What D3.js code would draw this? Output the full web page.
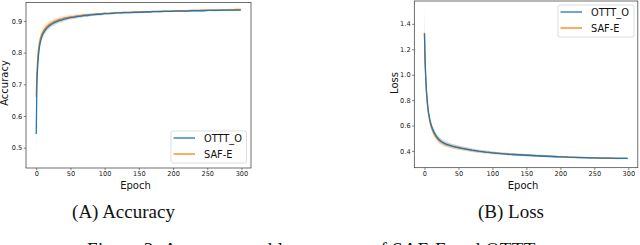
<!DOCTYPE html>
<html><head><meta charset="utf-8">
<script src="https://cdn.jsdelivr.net/npm/d3@7"></script>
<style>html,body{margin:0;padding:0;background:#fff;overflow:hidden}</style>
</head><body><svg id="c" width="640" height="245"></svg>
<script>
const epochs = [0,1,2,3,4,5,6,7, 8,9,10,12,14,16,18,20, 23,26,29,32,35,38,41,44, 47,50,54,58,62,66,70,75,
  80,85,90,95,100,106,112,118, 124,130,137,144,151,158,165,172, 180,188,196,204,212,220,228,236, 244,252,260,268,276,284,292,299];
const seriesNames = ["OTTT_O", "SAF-E"];
const accOTTT = [0.543,0.700,0.752,0.785,0.806,0.822,0.833,0.842, 0.849,0.855,0.860,0.867,0.873,0.878,0.882,0.886,
  0.890,0.894,0.897,0.899,0.902,0.903,0.906,0.907, 0.909,0.910,0.911,0.913,0.914,0.915,0.917,0.917,
  0.919,0.920,0.921,0.921,0.923,0.923,0.924,0.925, 0.925,0.926,0.926,0.927,0.927,0.928,0.928,0.929,
  0.929,0.930,0.930,0.931,0.931,0.931,0.932,0.932, 0.932,0.933,0.933,0.933,0.934,0.934,0.934,0.934];
const accSAFE = [0.660,0.735,0.775,0.803,0.820,0.834,0.844,0.851, 0.857,0.862,0.866,0.873,0.879,0.883,0.887,0.890,
  0.894,0.898,0.900,0.903,0.905,0.906,0.909,0.910, 0.911,0.913,0.913,0.915,0.916,0.917,0.918,0.919,
  0.920,0.921,0.922,0.922,0.924,0.924,0.925,0.926, 0.926,0.927,0.927,0.928,0.928,0.929,0.929,0.930,
  0.930,0.931,0.931,0.932,0.932,0.932,0.933,0.933, 0.934,0.934,0.934,0.935,0.935,0.935,0.936,0.936];
const accOTTTSpread = [0.080,0.045,0.030,0.022,0.018,0.015,0.014,0.012, 0.013,0.011,0.012,0.010,0.011,0.009,0.010,0.009,
  0.008,0.009,0.007,0.008,0.007,0.008,0.006,0.007, 0.006,0.006,0.005,0.006,0.005,0.005,0.004,0.005,
  0.004,0.004,0.005,0.004,0.004,0.003,0.004,0.003, 0.004,0.003,0.003,0.004,0.003,0.003,0.003,0.003,
  0.004,0.003,0.003,0.003,0.002,0.003,0.003,0.002, 0.003,0.002,0.003,0.002,0.003,0.002,0.002,0.002];
const accSAFESpread = [0.060,0.040,0.030,0.024,0.020,0.017,0.015,0.014, 0.015,0.013,0.012,0.012,0.011,0.012,0.010,0.011,
  0.009,0.010,0.009,0.008,0.009,0.008,0.007,0.008, 0.007,0.007,0.006,0.006,0.005,0.006,0.005,0.005,
  0.004,0.005,0.004,0.004,0.004,0.003,0.004,0.003, 0.003,0.004,0.003,0.003,0.003,0.003,0.003,0.002,
  0.003,0.003,0.003,0.002,0.003,0.003,0.002,0.003, 0.002,0.002,0.003,0.002,0.002,0.003,0.002,0.002];
const lossOTTT = [1.325,1.100,0.965,0.870,0.800,0.745,0.705,0.672, 0.645,0.622,0.602,0.572,0.548,0.528,0.512,0.498,
  0.482,0.470,0.461,0.454,0.448,0.443,0.438,0.434, 0.430,0.427,0.422,0.418,0.414,0.410,0.406,0.402,
  0.398,0.395,0.391,0.388,0.385,0.382,0.379,0.377, 0.374,0.372,0.370,0.368,0.366,0.364,0.362,0.360,
  0.358,0.356,0.354,0.353,0.351,0.350,0.348,0.347, 0.346,0.345,0.344,0.343,0.343,0.342,0.342,0.341];
const lossSAFE = [1.330,1.090,0.950,0.855,0.785,0.730,0.690,0.658, 0.631,0.609,0.590,0.560,0.537,0.518,0.503,0.490,
  0.476,0.465,0.457,0.450,0.445,0.440,0.436,0.432, 0.429,0.425,0.421,0.417,0.413,0.409,0.405,0.401,
  0.397,0.394,0.391,0.388,0.385,0.382,0.380,0.377, 0.375,0.373,0.371,0.369,0.367,0.365,0.363,0.361,
  0.359,0.357,0.355,0.353,0.352,0.350,0.349,0.347, 0.346,0.345,0.344,0.343,0.342,0.342,0.341,0.341];
const lossOTTTSpread = [0.210,0.090,0.060,0.050,0.040,0.035,0.030,0.030, 0.028,0.030,0.027,0.025,0.028,0.024,0.026,0.022,
  0.024,0.020,0.022,0.019,0.020,0.018,0.017,0.019, 0.016,0.017,0.015,0.016,0.014,0.015,0.013,0.014,
  0.012,0.013,0.012,0.011,0.012,0.010,0.011,0.010, 0.010,0.009,0.010,0.009,0.009,0.010,0.008,0.009,
  0.008,0.008,0.009,0.007,0.008,0.007,0.008,0.007, 0.007,0.006,0.007,0.006,0.006,0.007,0.006,0.006];
const lossSAFESpread = [0.150,0.080,0.060,0.050,0.045,0.040,0.035,0.033, 0.030,0.032,0.030,0.028,0.030,0.026,0.027,0.024,
  0.025,0.022,0.023,0.020,0.021,0.019,0.018,0.019, 0.017,0.017,0.016,0.016,0.015,0.014,0.015,0.013,
  0.013,0.012,0.013,0.011,0.011,0.010,0.011,0.010, 0.010,0.009,0.010,0.009,0.009,0.008,0.009,0.008,
  0.008,0.009,0.007,0.008,0.007,0.007,0.008,0.007, 0.006,0.007,0.006,0.006,0.007,0.006,0.006,0.005];
const xTicks = [0,50,100,150,200,250,300];
const accTicks = [0.5,0.6,0.7,0.8,0.9];
const lossTicks = [0.4,0.6,0.8,1.0,1.2,1.4];
const captions = ["(A) Accuracy", "(B) Loss"];
const figureCaption = "Figure 3: Accuracy and loss curves of SAF-E and OTTT.";

const colors = ["#1f77b4", "#ff7f0e"];
const svg = d3.select("#c");

function panel(cfg) {
  const x = d3.scaleLinear().domain([-14.95, 313.95]).range([cfg.x0, cfg.x1]);
  const y = d3.scaleLinear().domain(cfg.ydom).range([cfg.y0, cfg.y1]);
  const g = svg.append("g");
  const clipId = "clip" + cfg.id;
  svg.append("clipPath").attr("id", clipId).append("rect")
    .attr("x", cfg.x0).attr("y", cfg.y1).attr("width", cfg.x1 - cfg.x0).attr("height", cfg.y0 - cfg.y1);
  const plot = g.append("g").attr("clip-path", `url(#${clipId})`);
  [1, 0].forEach(si => {
    const vals = cfg.series[si], spr = cfg.spreads[si];
    const area = d3.area().x((d, i) => x(epochs[i])).y0((d, i) => y(d - spr[i])).y1((d, i) => y(d + spr[i]));
    plot.append("path").attr("d", area(vals)).attr("fill", colors[si]).attr("fill-opacity", 0.2);
  });
  [1, 0].forEach(si => {
    const line = d3.line().x((d, i) => x(epochs[i])).y(d => y(d));
    plot.append("path").attr("d", line(cfg.series[si])).attr("fill", "none")
      .attr("stroke", colors[si]).attr("stroke-width", 1.3).attr("stroke-linejoin", "round");
  });
  const xa = g.append("g").attr("transform", `translate(0,${cfg.y0})`)
    .call(d3.axisBottom(x).tickValues(xTicks).tickSize(2.2).tickPadding(1.5).tickFormat(d3.format("d")));
  const ya = g.append("g").attr("transform", `translate(${cfg.x0},0)`)
    .call(d3.axisLeft(y).tickValues(cfg.yticks).tickSize(2.2).tickPadding(1.5).tickFormat(d3.format(".1f")));
  [xa, ya].forEach(a => {
    a.select(".domain").remove();
    a.selectAll(".tick line").attr("stroke", "#333").attr("stroke-width", 0.6);
    a.selectAll(".tick text").attr("font-family", "DejaVu Sans").attr("font-size", 6.6).attr("fill", "#222");
  });
  g.append("rect").attr("x", cfg.x0).attr("y", cfg.y1).attr("width", cfg.x1 - cfg.x0).attr("height", cfg.y0 - cfg.y1)
    .attr("fill", "none").attr("stroke", "#333").attr("stroke-width", 0.7);
  g.append("text").attr("x", (cfg.x0 + cfg.x1) / 2 - 3).attr("y", 188.5).attr("text-anchor", "middle")
    .attr("font-family", "DejaVu Sans").attr("font-size", 10).attr("fill", "#111").text("Epoch");
  g.append("text").attr("transform", `translate(${cfg.ylabX},83) rotate(-90)`).attr("text-anchor", "middle")
    .attr("font-family", "DejaVu Sans").attr("font-size", 10).attr("fill", "#111").text(cfg.ylabel);
  const L = cfg.legend;
  g.append("rect").attr("x", L.x).attr("y", L.y).attr("width", L.w).attr("height", L.h).attr("rx", 2)
    .attr("fill", "#fff").attr("fill-opacity", 0.8).attr("stroke", "#d0d0d0").attr("stroke-width", 0.7);
  seriesNames.forEach((n, i) => {
    const ry = L.y + 7 + i * 16;
    g.append("line").attr("x1", L.x + 2.5).attr("x2", L.x + 24).attr("y1", ry).attr("y2", ry)
      .attr("stroke", colors[i]).attr("stroke-width", 1.3);
    g.append("text").attr("x", L.x + 33).attr("y", ry).attr("dy", "0.36em")
      .attr("font-family", "DejaVu Sans").attr("font-size", 9.8).attr("fill", "#111").text(n);
  });
  svg.append("text").attr("x", cfg.capX).attr("y", 217.5).attr("text-anchor", "middle")
    .attr("font-family", "Liberation Serif").attr("font-size", 19).attr("fill", "#111").text(cfg.caption);
}

panel({id: "a", x0: 26, x1: 251, y0: 168, y1: 2.5, ydom: [0.436, 0.958], yticks: accTicks,
  series: [accOTTT, accSAFE], spreads: [accOTTTSpread, accSAFESpread], ylabel: "Accuracy", ylabX: 8,
  legend: {x: 171, y: 131, w: 75.5, h: 32}, caption: captions[0], capX: 123.5});
panel({id: "b", x0: 414.3, x1: 637.8, y0: 167.7, y1: 1, ydom: [0.268, 1.58], yticks: lossTicks,
  series: [lossOTTT, lossSAFE], spreads: [lossOTTTSpread, lossSAFESpread], ylabel: "Loss", ylabX: 398,
  legend: {x: 558, y: 5, w: 76, h: 32}, caption: captions[1], capX: 511});
svg.append("text").attr("x", 313).attr("y", 256).attr("text-anchor", "middle")
  .attr("font-family", "Liberation Serif").attr("font-size", 19).attr("textLength", 452)
  .attr("lengthAdjust", "spacing").attr("fill", "#111").text(figureCaption);
</script></body></html>
